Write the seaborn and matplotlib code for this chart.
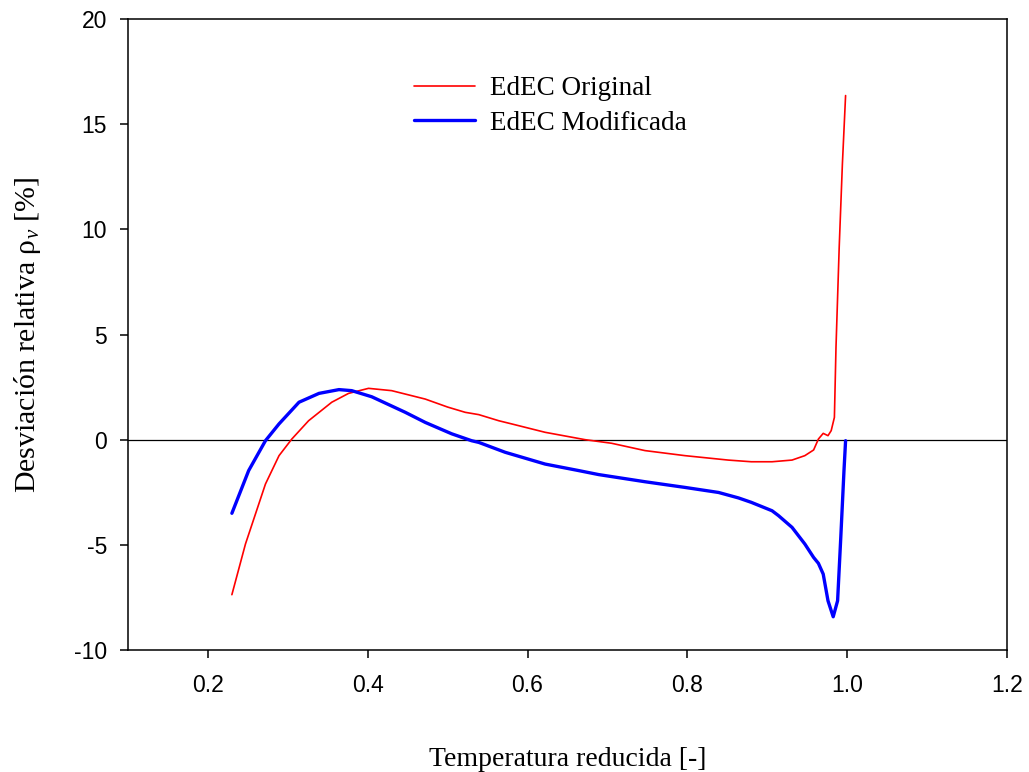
import numpy as np
import pandas as pd
import matplotlib
matplotlib.use("Agg")
import matplotlib.pyplot as plt
import seaborn as sns

# Relative deviation of the saturated liquid density vs reduced temperature
t_original = [0.230, 0.247, 0.272, 0.289, 0.305, 0.326, 0.355, 0.376, 0.401,
              0.430, 0.472, 0.500, 0.522, 0.539, 0.564, 0.580, 0.622, 0.672,
              0.705, 0.747, 0.797, 0.851, 0.880, 0.906, 0.931, 0.947, 0.958,
              0.964, 0.970, 0.976, 0.980, 0.984, 0.986, 0.990, 0.994, 0.998]
dev_original = [-7.37, -4.96, -2.11, -0.76, 0.03, 0.90, 1.78, 2.20, 2.44,
                2.33, 1.93, 1.55, 1.30, 1.19, 0.90, 0.75, 0.35, 0.00,
                -0.17, -0.52, -0.76, -0.97, -1.05, -1.05, -0.97, -0.76, -0.49,
                0.03, 0.30, 0.19, 0.43, 1.06, 4.39, 9.14, 13.10, 16.36]

t_modified = [0.230, 0.251, 0.272, 0.289, 0.314, 0.339, 0.364, 0.380, 0.405,
              0.447, 0.472, 0.505, 0.530, 0.539, 0.572, 0.622, 0.664, 0.689,
              0.747, 0.797, 0.839, 0.864, 0.880, 0.906, 0.914, 0.931, 0.947,
              0.958, 0.964, 0.970, 0.976, 0.9825, 0.988, 0.992, 0.996, 0.998]
dev_modified = [-3.50, -1.47, -0.05, 0.75, 1.78, 2.20, 2.38, 2.33, 2.04,
                1.30, 0.82, 0.28, -0.05, -0.13, -0.60, -1.16, -1.47, -1.66,
                -2.00, -2.27, -2.51, -2.77, -2.98, -3.38, -3.61, -4.17, -4.96,
                -5.60, -5.88, -6.39, -7.66, -8.42, -7.66, -4.64, -1.47, -0.05]

series_names = ["EdEC Original", "EdEC Modificada"]
series_colors = ["#ff0000", "#0000ff"]
series_widths = [1.2, 2.4]

x_ticks = [0.2, 0.4, 0.6, 0.8, 1.0, 1.2]
y_ticks = [-10, -5, 0, 5, 10, 15, 20]

df = pd.concat([
    pd.DataFrame({"Tr": t_original, "dev": dev_original, "serie": series_names[0]}),
    pd.DataFrame({"Tr": t_modified, "dev": dev_modified, "serie": series_names[1]}),
], ignore_index=True)

sns.set_theme(style="ticks")
plt.rcParams["font.family"] = ["Liberation Sans", "DejaVu Sans"]
plt.rcParams["text.color"] = "black"
plt.rcParams["axes.labelcolor"] = "black"
plt.rcParams["mathtext.fontset"] = "custom"
plt.rcParams["mathtext.rm"] = "Liberation Serif"
plt.rcParams["mathtext.it"] = "Liberation Serif:italic"

fig = plt.figure(figsize=(10.29, 7.72), dpi=100)
ax = fig.add_axes([128 / 1029, 1 - 650 / 772, 879 / 1029, 631 / 772])

ax.axhline(0, color="black", lw=0.9, zorder=1)

for name, color, lw in zip(series_names, series_colors, series_widths):
    sub = df[df["serie"] == name]
    sns.lineplot(data=sub, x="Tr", y="dev", ax=ax, color=color, lw=lw,
                 label=name, sort=False, estimator=None, zorder=3)

ax.set_xlim(0.1, 1.2)
ax.set_ylim(-10, 20)
ax.set_xticks(x_ticks)
ax.set_xticklabels([f"{v:.1f}" for v in x_ticks])
ax.set_yticks(y_ticks)
ax.set_yticklabels([str(v) for v in y_ticks])

for side in ["left", "bottom", "top", "right"]:
    ax.spines[side].set_visible(True)
    ax.spines[side].set_linewidth(1.1)
    ax.spines[side].set_color("black")

ax.tick_params(axis="both", direction="out", length=6, width=1.1,
               labelsize=16.5, colors="black", pad=9)
ax.tick_params(axis="x", pad=11)
ax.tick_params(top=False, right=False)

serif = ["Liberation Serif", "DejaVu Serif"]
ax.set_xlabel("Temperatura reducida [-]", fontsize=20, family=serif, labelpad=36)
ax.set_ylabel("Desviación relativa ρ$_{ν}$ [%]", fontsize=21.5, family=serif, labelpad=22)

leg = ax.legend(loc="upper left", bbox_to_anchor=(0.310, 0.931), frameon=False,
                prop={"family": serif, "size": 19.5}, handlelength=2.25,
                handletextpad=0.55, labelspacing=0.36, borderpad=0)

fig.savefig("out.png", dpi=100, facecolor="white")
